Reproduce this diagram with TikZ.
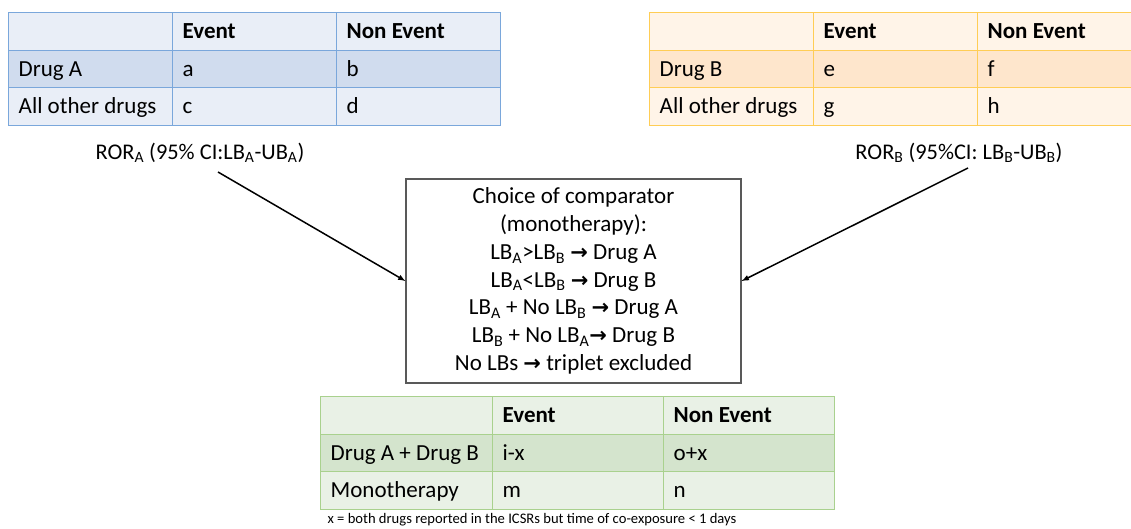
\documentclass[tikz,border=0pt]{standalone}
\usepackage{fontspec}
\setmainfont{Carlito}
\newfontfamily\arrowfont{DejaVu Sans}
\newcommand{\too}{{\arrowfont\bfseries\fontsize{21}{22}\selectfont →}}
\newcommand{\cellbox}[2]{\makebox[#1][l]{#2}}

\definecolor{blueLine}{HTML}{7AA7DB}
\definecolor{blueLight}{HTML}{E9EEF7}
\definecolor{blueDark}{HTML}{D0DCEE}
\definecolor{orangeLine}{HTML}{FFCD55}
\definecolor{orangeLight}{HTML}{FFF4E8}
\definecolor{orangeDark}{HTML}{FEE6CC}
\definecolor{greenLine}{HTML}{A9D18E}
\definecolor{greenLight}{HTML}{E9F1E6}
\definecolor{greenDark}{HTML}{D4E4CD}
\definecolor{boxGray}{HTML}{595959}

\tikzset{
  cell/.style={draw, line width=1.4pt, anchor=north west, inner xsep=10pt, inner ysep=0pt,
    minimum height=37.5pt, text height=14.5pt, text depth=0pt,
    font=\fontsize{23}{27}\selectfont},
}

\begin{document}
\begin{tikzpicture}[x=1pt, y=-1pt, >=latex]
	\useasboundingbox (0,0) rectangle (1131,528);
	\clip (0,0) rectangle (1131,528);
	% drug A table
	\foreach \r/\ca/\cb/\cc/\fc in {0/{}/\textbf{Event}/\textbf{Non Event}/blueLight,
	  1/Drug A/a/b/blueDark, 2/All other drugs/c/d/blueLight}{
		\node [cell, fill=\fc, draw=blueLine] (A\r0) at (8,12+37.5*\r) {\cellbox{144pt}{\ca}};
		\node [cell, fill=\fc, draw=blueLine] (A\r1) at (172,12+37.5*\r) {\cellbox{144pt}{\cb}};
		\node [cell, fill=\fc, draw=blueLine] (A\r2) at (336,12+37.5*\r) {\cellbox{144pt}{\cc}};
	}
	% drug B table
	\foreach \r/\ca/\cb/\cc/\fc in {0/{}/\textbf{Event}/\textbf{Non Event}/orangeLight,
	  1/Drug B/e/f/orangeDark, 2/All other drugs/g/h/orangeLight}{
		\node [cell, fill=\fc, draw=orangeLine] (B\r0) at (649,12+37.5*\r) {\cellbox{144pt}{\ca}};
		\node [cell, fill=\fc, draw=orangeLine] (B\r1) at (813,12+37.5*\r) {\cellbox{144pt}{\cb}};
		\node [cell, fill=\fc, draw=orangeLine] (B\r2) at (977,12+37.5*\r) {\cellbox{144pt}{\cc}};
	}
	% combination table
	\foreach \r/\ca/\cb/\cc/\fc in {0/{}/\textbf{Event}/\textbf{Non Event}/greenLight,
	  1/Drug A + Drug B/i-x/o+x/greenDark, 2/Monotherapy/m/n/greenLight}{
		\node [cell, fill=\fc, draw=greenLine] (C\r0) at (320,396+37.5*\r) {\cellbox{152pt}{\ca}};
		\node [cell, fill=\fc, draw=greenLine] (C\r1) at (492,396+37.5*\r) {\cellbox{151pt}{\cb}};
		\node [cell, fill=\fc, draw=greenLine] (C\r2) at (663,396+37.5*\r) {\cellbox{151pt}{\cc}};
	}
	% labels
	\node [font=\fontsize{22.4}{26}\selectfont] (rorA) at (200,153)
		{ROR\textsubscript{A} (95\% CI:LB\textsubscript{A}-UB\textsubscript{A})};
	\node [font=\fontsize{22.4}{26}\selectfont] (rorB) at (959,153)
		{ROR\textsubscript{B} (95\%CI: LB\textsubscript{B}-UB\textsubscript{B})};
	\node [draw=boxGray, line width=1.2pt, minimum width=335pt, minimum height=204pt,
		align=center, font=\fontsize{23}{27.8}\selectfont] (choice) at (573.5,281)
		{Choice of comparator\\ (monotherapy):\\
		 LB\textsubscript{A}>LB\textsubscript{B} \too{} Drug A\\
		 LB\textsubscript{A}<LB\textsubscript{B} \too{} Drug B\\
		 LB\textsubscript{A} + No LB\textsubscript{B} \too{} Drug A\\
		 LB\textsubscript{B} + No LB\textsubscript{A}\too{} Drug B\\
		 No LBs \too{} triplet excluded};
	\node [font=\fontsize{14.6}{16}\selectfont] (note) at (532,520)
		{x = both drugs reported in the ICSRs but time of co-exposure < 1 days};
	% arrows
	\coordinate (tailA) at (218,172);
	\coordinate (tailB) at (968,168);
	\draw [->, line width=1.5pt] (tailA) -- (choice.west);
	\draw [->, line width=1.5pt] (tailB) -- (choice.east);
\end{tikzpicture}
\end{document}
